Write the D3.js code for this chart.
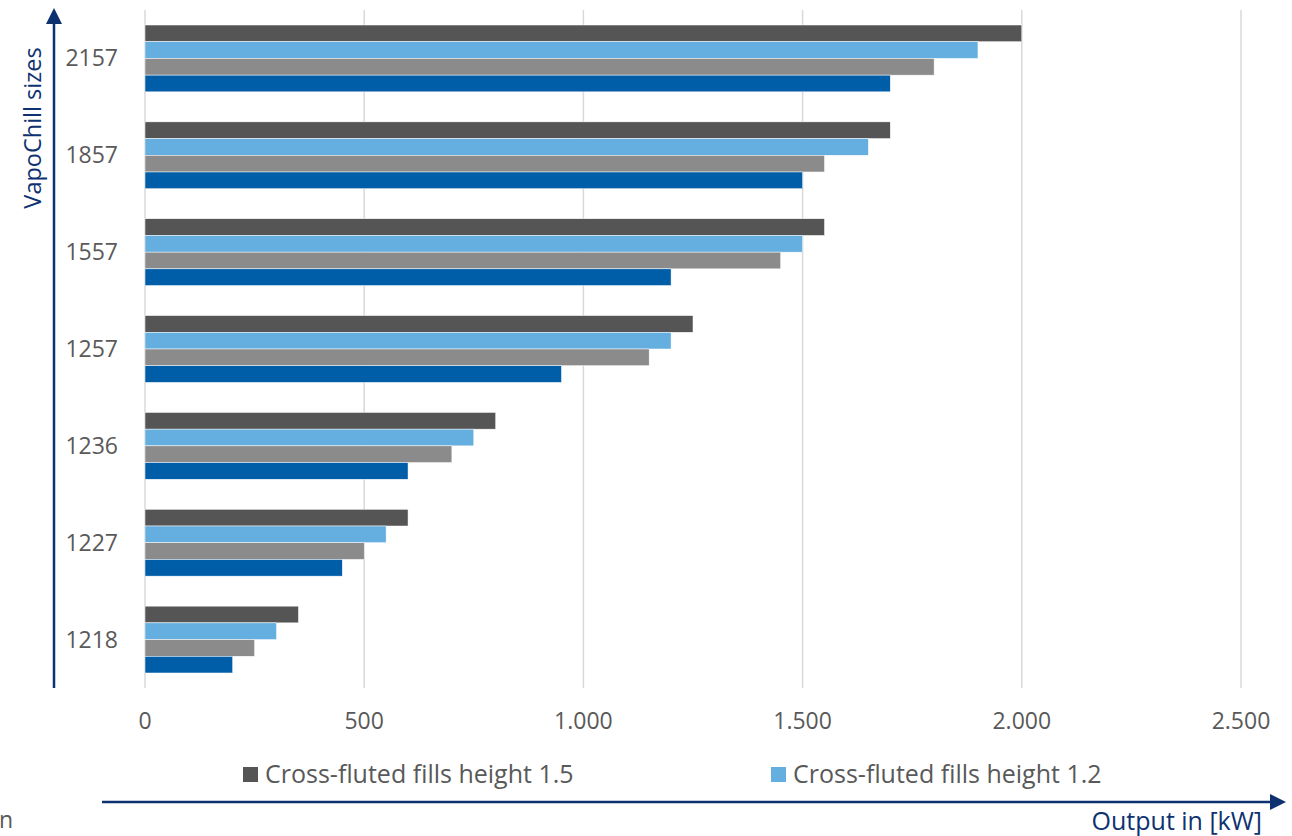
<!DOCTYPE html>
<html><head><meta charset="utf-8">
<script src="https://cdn.jsdelivr.net/npm/d3@7"></script>
<style>body{margin:0;background:#fff;} svg{display:block;font-family:"Open Sans","Noto Sans",sans-serif;}</style>
</head><body>
<svg id="c" width="1292" height="836"></svg>
<script>
const categories = ["2157","1857","1557","1257","1236","1227","1218"];
const seriesNames = ["Cross-fluted fills height 1.5","Cross-fluted fills height 1.2","Cross-fluted fills height 0.9","Cross-fluted fills height 0.6"];
const s15 = [2000,1700,1550,1250,800,600,350];
const s12 = [1900,1650,1500,1200,750,550,300];
const s09 = [1800,1550,1450,1150,700,500,250];
const s06 = [1700,1500,1200,950,600,450,200];
const xTicks = [0,500,1000,1500,2000,2500];
const xTickLabels = ["0","500","1.000","1.500","2.000","2.500"];
const legendShown = [0,1];

const colors = ["#555555","#65AEE0","#8A8B8A","#005DA8"];
const series = [s15,s12,s09,s06];
const navy = "#0E3270";
const textCol = "#595959";

const svg = d3.select("#c");
const x = d3.scaleLinear().domain([0,2500]).range([145,1241]);
const y = d3.scaleBand().domain(categories).range([10,688]).paddingInner(0.31).paddingOuter(0.155);
const yi = d3.scaleBand().domain(d3.range(4)).range([0,y.bandwidth()]);

// gridlines
svg.append("g").selectAll("line").data(xTicks).join("line")
  .attr("x1",d=>x(d)).attr("x2",d=>x(d)).attr("y1",10).attr("y2",688)
  .attr("stroke","#D9D9D9").attr("stroke-width",1.5);

// bars
const g = svg.append("g");
categories.forEach((c,ci)=>{
  series.forEach((s,si)=>{
    g.append("rect").attr("x",x(0)).attr("y",y(c)+yi(si))
      .attr("width",x(s[ci])-x(0)).attr("height",yi.bandwidth())
      .attr("fill",colors[si]).attr("stroke","#fff").attr("stroke-width",0.5);
  });
});

// x tick labels
svg.append("g").selectAll("text").data(xTicks).join("text")
  .attr("x",d=>x(d)).attr("y",729).attr("text-anchor","middle")
  .attr("font-size",23).attr("fill",textCol).text((d,i)=>xTickLabels[i]);

// y tick labels
svg.append("g").selectAll("text").data(categories).join("text")
  .attr("x",118).attr("y",d=>y(d)+y.bandwidth()/2+8).attr("text-anchor","end")
  .attr("font-size",23).attr("fill",textCol).text(d=>d);

// arrows
svg.append("line").attr("x1",54).attr("x2",54).attr("y1",688).attr("y2",20).attr("stroke",navy).attr("stroke-width",2.5);
svg.append("path").attr("d","M54,8 L46,24 L62,24 Z").attr("fill",navy);
svg.append("line").attr("x1",102).attr("x2",1272).attr("y1",802).attr("y2",802).attr("stroke",navy).attr("stroke-width",2.5);
svg.append("path").attr("d","M1286,802 L1270,794 L1270,810 Z").attr("fill",navy);

// axis titles
svg.append("text").attr("transform","translate(41,128) rotate(-90)").attr("text-anchor","middle")
  .attr("font-size",23.5).attr("fill",navy).text("VapoChill sizes");
svg.append("text").attr("x",1262).attr("y",830).attr("text-anchor","end")
  .attr("font-size",25).attr("fill",navy).text("Output in [kW]");

// legend
const lx = [243,771];
legendShown.forEach((si,i)=>{
  svg.append("rect").attr("x",lx[i]).attr("y",767).attr("width",15).attr("height",15).attr("fill",colors[si]);
  svg.append("text").attr("x",lx[i]+22).attr("y",783).attr("font-size",25).attr("fill",textCol).text(seriesNames[si]);
});

svg.append("text").attr("x",-1).attr("y",828).attr("font-size",23).attr("fill",textCol).text("n");
</script>
</body></html>
